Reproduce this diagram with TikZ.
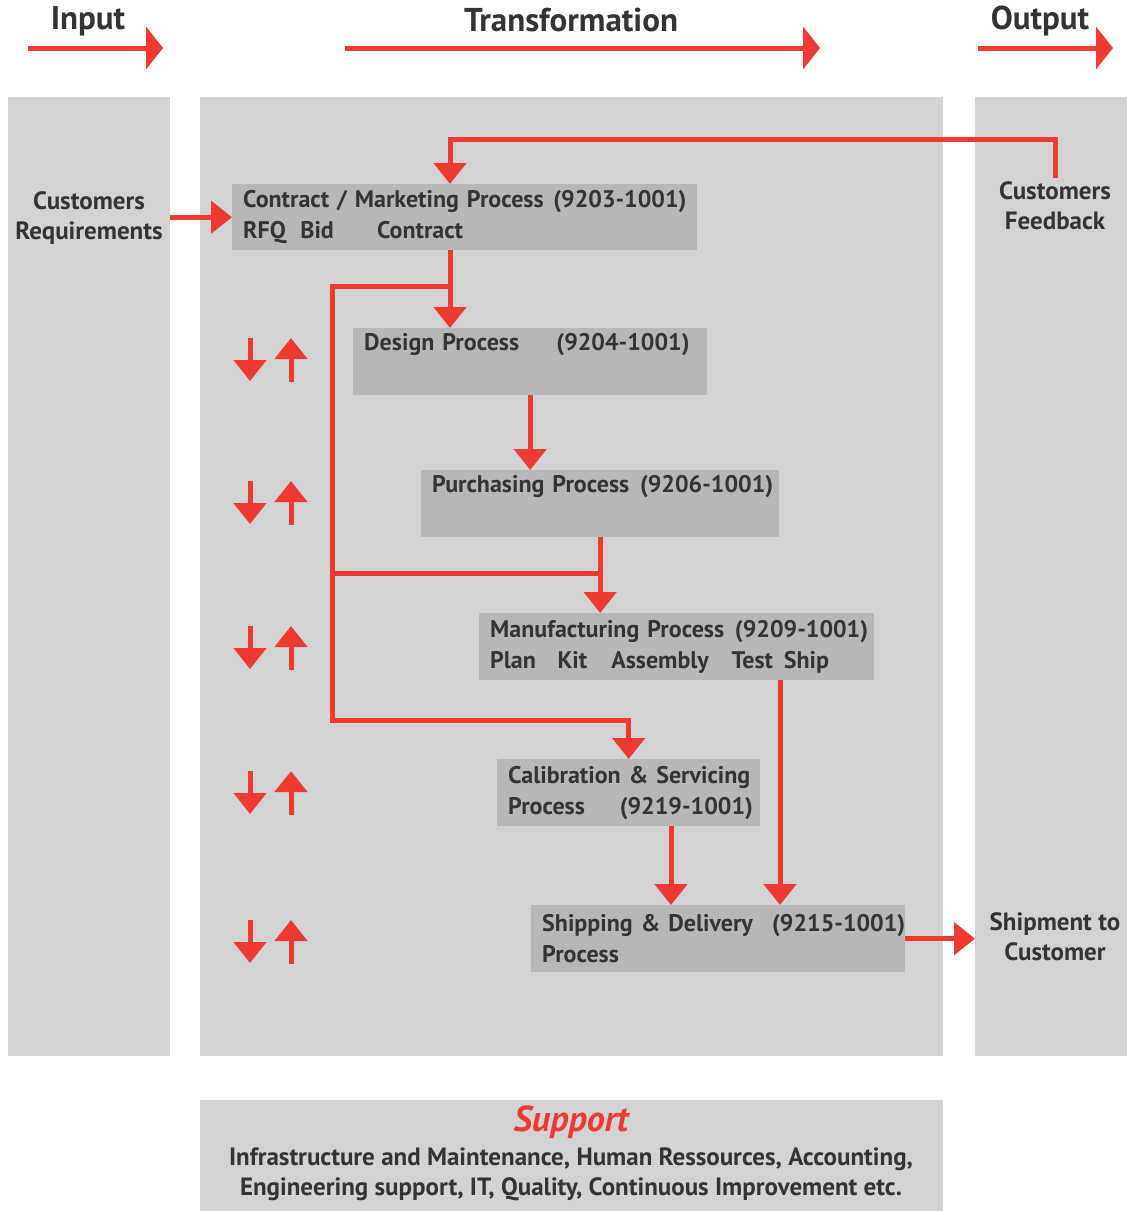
\documentclass[tikz,border=0pt]{standalone}
\usepackage{fontspec}
\setmainfont{PT Sans}
\usetikzlibrary{arrows.meta,positioning}
\definecolor{flowRed}{HTML}{EE3A33}
\definecolor{panelGray}{HTML}{D1D3D4}
\definecolor{boxGray}{HTML}{B5B7B9}
\definecolor{inkGray}{HTML}{343436}

\begin{document}
\begin{tikzpicture}[x=1pt,y=-1pt,every node/.style={font=\fontsize{24}{31}\selectfont\bfseries,text=inkGray},
panel/.style={fill=panelGray,inner sep=0pt,anchor=north west},
proc/.style={fill=boxGray,anchor=north west,align=left,inner xsep=11pt,inner ysep=0pt},
side/.style={align=center,font=\fontsize{25}{30}\selectfont\bfseries},
flow/.style={draw=flowRed,line width=5pt,-{Triangle[length=21pt,width=32pt]}},
wire/.style={draw=flowRed,line width=5pt},
bigflow/.style={draw=flowRed,line width=5pt,-{Triangle[length=17pt,width=42pt]}},
title/.style={font=\fontsize{33}{36}\selectfont\bfseries}]
\useasboundingbox (0,0) rectangle (1127,1211);

% panels
\node[panel,minimum width=162pt,minimum height=959pt] (inp) at (8,97) {};
\node[panel,minimum width=743pt,minimum height=959pt] (trans) at (200,97) {};
\node[panel,minimum width=152pt,minimum height=959pt] (outp) at (975,97) {};
\node[panel,minimum width=743pt,minimum height=111pt] (supp) at (200,1100) {};

% titles
\node[title] (intitle) at (88,21) {Input};
\node[title] (trtitle) at (571,20) {Transformation};
\node[title] (outtitle) at (1040,21) {Output};
\foreach \n/\a/\b in {in/28/163,tr/345/820,out/978/1113}{
  \coordinate (\n s) at (\a,48);
  \coordinate (\n e) at (\b,48);
  \draw[bigflow] (\n s) -- (\n e);
}

% processes
\node[proc,text width=443pt,minimum height=66pt] (contract) at (232,184)
  {\mbox{Contract / Marketing Process\hspace{0.4em}(9203-1001)}\\\mbox{RFQ\hspace{0.6em}Bid\hspace{1.8em}Contract}};
\node[proc,text width=332pt,minimum height=67pt] (design) at (353,328)
  {\mbox{Design Process\hspace{1.55em}(9204-1001)}\\\strut};
\node[proc,text width=336pt,minimum height=67pt] (purch) at (421,470)
  {\mbox{Purchasing Process\hspace{0.45em}(9206-1001)}\\\strut};
\node[proc,text width=373pt,minimum height=67pt] (manuf) at (479,613)
  {\mbox{Manufacturing Process\hspace{0.45em}(9209-1001)}\\\mbox{Plan\hspace{0.9em}Kit\hspace{1em}Assembly\hspace{0.95em}Test\hspace{0.45em}Ship}};
\node[proc,text width=241pt,minimum height=67pt] (calib) at (497,759)
  {\mbox{Calibration \& Servicing}\\\mbox{Process\hspace{1.45em}(9219-1001)}};
\node[proc,text width=352pt,minimum height=67pt] (ship) at (531,905)
  {\mbox{Shipping \& Delivery\hspace{0.8em}(9215-1001)}\\Process};

% inputs and outputs
\node[side] (req) at (89,218) {Customers\\Requirements};
\node[side] (fb) at (1055,206) {Customers\\Feedback};
\node[side] (cust) at (1055,937) {Shipment to\\Customer};

% flow
\coordinate (fbtop) at (450,139);
\draw[flow] (fb.north) |- (fbtop) -- (fbtop |- contract.north);
\draw[flow] (inp.east |- contract.west) -- (contract.west);
\coordinate (cout) at ([xshift=218pt]contract.south west);
\draw[flow] (cout) -- (cout |- design.north);
\coordinate (loopA) at (332,286);
\coordinate (loopB) at (332,573);
\coordinate (loopC) at (332,720);
\draw[flow] (cout |- loopA) -- (loopA) -- (loopC) -| (calib.north);
\draw[flow] (design.south) -- (design.south |- purch.north);
\draw[flow] (purch.south) -- (purch.south |- manuf.north);
\draw[wire] (loopB) -- (loopB -| purch.south);
\coordinate (calout) at ([xshift=174pt]calib.south west);
\draw[flow] (calout) -- (calout |- ship.north);
\coordinate (mout) at ([xshift=301pt]manuf.south west);
\draw[flow] (mout) -- (mout |- ship.north);
\draw[flow] (ship.east) -- (ship.east -| outp.west);

% up and down
\foreach \y [count=\i] in {360,503,648,793,942}{
  \coordinate (d\i a) at (250,\y-22);
  \coordinate (d\i b) at (250,\y+21);
  \coordinate (u\i a) at (291,\y+22);
  \coordinate (u\i b) at (291,\y-22);
  \draw[flow] (d\i a) -- (d\i b);
  \draw[flow] (u\i a) -- (u\i b);
}

% support
\node[font=\fontsize{36}{40}\selectfont\bfseries\itshape,text=flowRed] (supptitle) at (571,1122) {Support};
\node[side] (supptext) at (571,1174)
  {Infrastructure and Maintenance, Human Ressources, Accounting,\\Engineering support, IT, Quality, Continuous Improvement etc.};
\end{tikzpicture}
\end{document}
